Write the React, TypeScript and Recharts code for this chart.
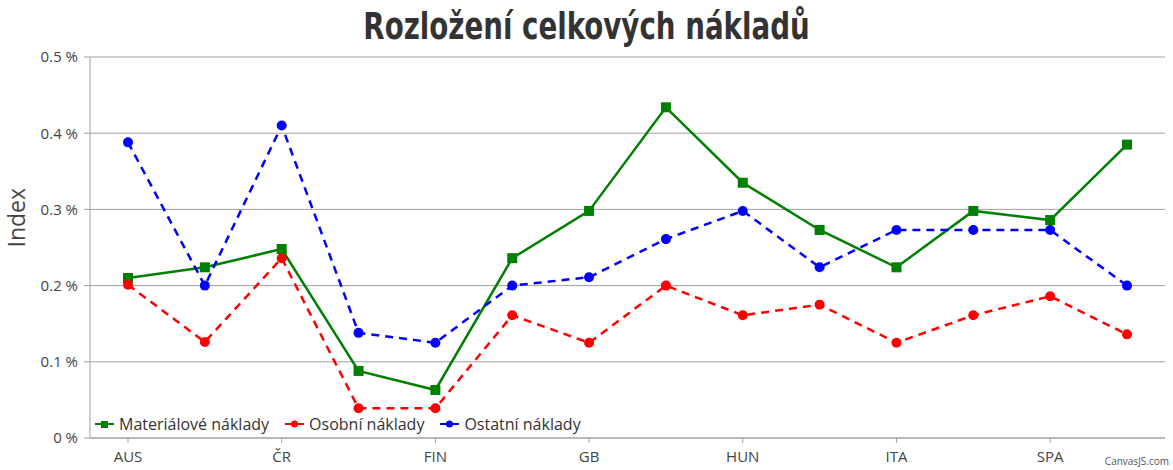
import { LineChart, Line, XAxis, YAxis, CartesianGrid } from "recharts";

const countries = ["AUS", "BEL", "ČR", "DEN", "FIN", "FRA", "GB", "GER", "HUN", "IRL", "ITA", "POL", "SPA", "SWE"];
const material = [0.21, 0.224, 0.248, 0.088, 0.063, 0.236, 0.298, 0.434, 0.335, 0.273, 0.224, 0.298, 0.286, 0.385];
const personal = [0.201, 0.126, 0.236, 0.039, 0.039, 0.161, 0.125, 0.2, 0.161, 0.175, 0.125, 0.161, 0.186, 0.136];
const other = [0.388, 0.2, 0.41, 0.138, 0.125, 0.2, 0.211, 0.261, 0.298, 0.224, 0.273, 0.273, 0.273, 0.2];
const yTicks = [0, 0.1, 0.2, 0.3, 0.4, 0.5];

const data = countries.map((name, i) => ({
  name,
  material: material[i],
  personal: personal[i],
  other: other[i],
}));

const SERIES = [
  { key: "material", label: "Materiálové náklady", color: "#008000", square: true },
  { key: "personal", label: "Osobní náklady", color: "#ff0000", square: false },
  { key: "other", label: "Ostatní náklady", color: "#0000ff", square: false },
];

const FONT = "'Open Sans', Calibri, sans-serif";

function SquareDot(props: any) {
  const { cx, cy, fill } = props;
  if (cx == null || cy == null) return null;
  return <rect x={cx - 5} y={cy - 5} width={10} height={10} fill={fill} />;
}

// legend sits inside the plot, bottom-left, like the original
function LegendBox() {
  return (
    <div
      style={{
        position: "absolute",
        left: 95,
        top: 413,
        display: "flex",
        gap: 16,
        fontFamily: FONT,
        fontSize: 16,
        color: "#333",
      }}
    >
      {SERIES.map((s) => (
        <span key={s.key} style={{ display: "flex", alignItems: "center", gap: 5 }}>
          <svg width={19} height={10}>
            <line x1={0} y1={5} x2={19} y2={5} stroke={s.color} strokeWidth={2} />
            {s.square ? (
              <rect x={6} y={2} width={7} height={7} fill={s.color} />
            ) : (
              <circle cx={9.5} cy={5} r={3.5} fill={s.color} />
            )}
          </svg>
          {s.label}
        </span>
      ))}
    </div>
  );
}

export default function App() {
  return (
    <div style={{ position: "absolute", left: 0, top: 0, width: 1173, height: 470, background: "#fff" }}>
      <div
        style={{
          position: "absolute",
          top: 4,
          left: 0,
          width: 1173,
          textAlign: "center",
          fontFamily: "Impact, 'Liberation Sans Narrow', 'DejaVu Sans Condensed', sans-serif",
          fontWeight: 700,
          fontSize: 38,
          color: "#333",
          transform: "scaleX(0.81)",
          zIndex: 2,
        }}
      >
        Rozložení celkových nákladů
      </div>
      <LineChart width={1173} height={470} data={data} margin={{ top: 57, right: 8, bottom: 0, left: 0 }}>
        <CartesianGrid horizontal vertical={false} stroke="#a0a0a0" />
        <XAxis
          dataKey="name"
          interval={1}
          padding={{ left: 38, right: 38 }}
          height={32}
          stroke="#a0a0a0"
          tickSize={5}
          tickMargin={8}
          tick={{ fill: "#444", fontSize: 15, fontFamily: FONT }}
        />
        <YAxis
          width={90}
          domain={[0, 0.5]}
          ticks={yTicks}
          stroke="#a0a0a0"
          tickSize={6}
          tickMargin={6}
          tickFormatter={(v: number) => `${v} %`}
          tick={{ fill: "#444", fontSize: 15, fontFamily: FONT }}
          label={{ value: "Index", angle: -90, position: "insideLeft", offset: 17, fill: "#444", fontSize: 23, fontFamily: FONT }}
        />
        <Line
          dataKey="material"
          stroke="#008000"
          strokeWidth={2.5}
          dot={<SquareDot fill="#008000" />}
          isAnimationActive={false}
        />
        <Line
          dataKey="personal"
          stroke="#ff0000"
          strokeWidth={2.5}
          strokeDasharray="8 6"
          dot={{ r: 5, fill: "#ff0000", stroke: "none" }}
          isAnimationActive={false}
        />
        <Line
          dataKey="other"
          stroke="#0000ff"
          strokeWidth={2.5}
          strokeDasharray="8 6"
          dot={{ r: 5, fill: "#0000ff", stroke: "none" }}
          isAnimationActive={false}
        />
      </LineChart>
      <LegendBox />
      <div
        style={{
          position: "absolute",
          right: 4,
          bottom: 2,
          fontFamily: FONT,
          fontSize: 10,
          color: "#555",
        }}
      >
        CanvasJS.com
      </div>
    </div>
  );
}
